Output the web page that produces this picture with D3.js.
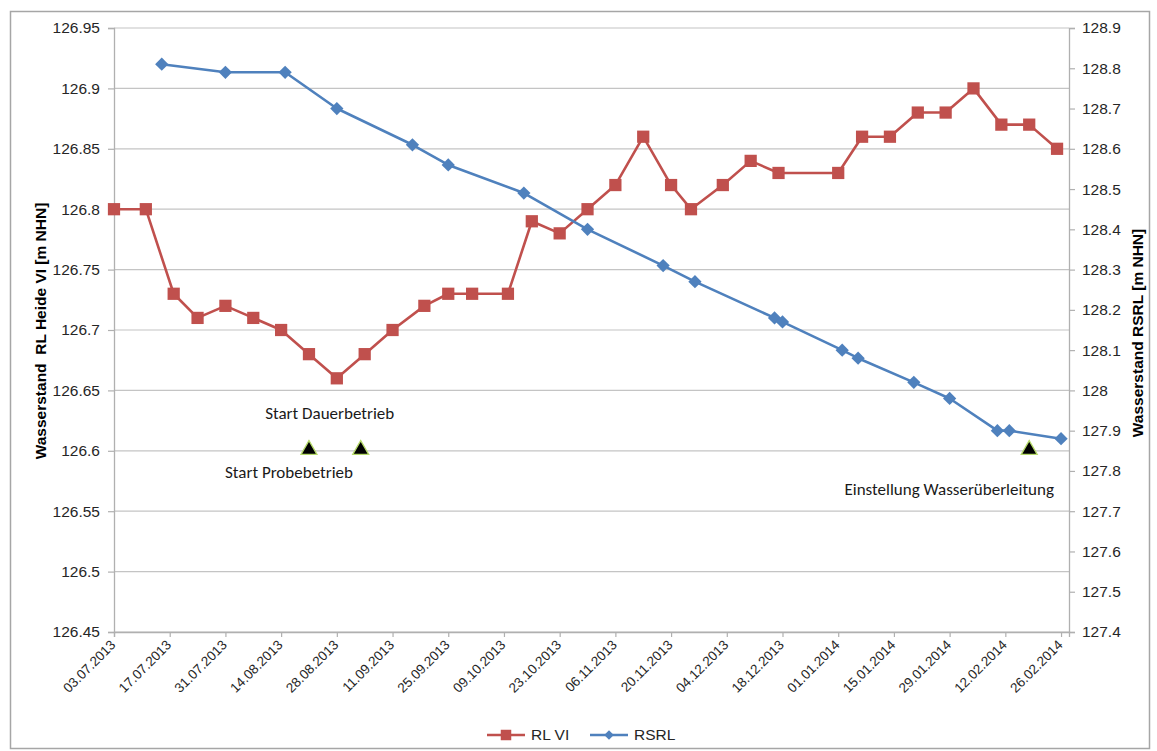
<!DOCTYPE html>
<html><head><meta charset="utf-8">
<script src="https://cdn.jsdelivr.net/npm/d3@7"></script>
<style>
html,body{margin:0;padding:0;background:#fff;}
svg{display:block;}
</style></head>
<body>
<svg id="chart" width="1157" height="751"></svg>
<script>
// ---- data ----
const rlDates = ["03.07.2013","11.07.2013","18.07.2013","24.07.2013","31.07.2013","07.08.2013","14.08.2013","21.08.2013","28.08.2013","04.09.2013","11.09.2013","19.09.2013","25.09.2013","01.10.2013","10.10.2013","16.10.2013","23.10.2013","30.10.2013","06.11.2013","13.11.2013","20.11.2013","25.11.2013","03.12.2013","10.12.2013","17.12.2013","01.01.2014","07.01.2014","14.01.2014","21.01.2014","28.01.2014","04.02.2014","11.02.2014","18.02.2014","25.02.2014"];
const rlValues = [126.80,126.80,126.73,126.71,126.72,126.71,126.70,126.68,126.66,126.68,126.70,126.72,126.73,126.73,126.73,126.79,126.78,126.80,126.82,126.86,126.82,126.80,126.82,126.84,126.83,126.83,126.86,126.86,126.88,126.88,126.90,126.87,126.87,126.85];
const rsrlDates = ["15.07.2013","31.07.2013","15.08.2013","28.08.2013","16.09.2013","25.09.2013","14.10.2013","30.10.2013","18.11.2013","26.11.2013","16.12.2013","18.12.2013","02.01.2014","06.01.2014","20.01.2014","29.01.2014","10.02.2014","13.02.2014","26.02.2014"];
const rsrlValues = [128.81,128.79,128.79,128.70,128.61,128.56,128.49,128.40,128.31,128.27,128.18,128.17,128.10,128.08,128.02,127.98,127.90,127.90,127.88];
const xTickLabels = ["03.07.2013","17.07.2013","31.07.2013","14.08.2013","28.08.2013","11.09.2013","25.09.2013","09.10.2013","23.10.2013","06.11.2013","20.11.2013","04.12.2013","18.12.2013","01.01.2014","15.01.2014","29.01.2014","12.02.2014","26.02.2014"];
const leftTicks = [126.45,126.5,126.55,126.6,126.65,126.7,126.75,126.8,126.85,126.9,126.95];
const rightTicks = [127.4,127.5,127.6,127.7,127.8,127.9,128,128.1,128.2,128.3,128.4,128.5,128.6,128.7,128.8,128.9];
const eventDates = ["21.08.2013","03.09.2013","18.02.2014"];
const eventLevel = 126.6;
const eventLabels = ["Start Probebetrieb","Start Dauerbetrieb","Einstellung Wasserüberleitung"];
const seriesNames = ["RL VI","RSRL"];
const leftTitle = "Wasserstand  RL Heide VI [m NHN]";
const rightTitle = "Wasserstand RSRL [m NHN]";

// ---- setup ----
const parse = d3.timeParse("%d.%m.%Y");
const svg = d3.select("#chart");
const L = 114, R = 1069, T = 28, B = 632;
const red = "#c0504d", blue = "#4f81bd";
const axisFont = "Arial, 'Liberation Sans', sans-serif";
const noteFont = "Carlito, Lato, 'Open Sans', sans-serif";

const x = d3.scaleTime().domain([parse("03.07.2013"), parse("28.02.2014")]).range([L, R]);
const yL = d3.scaleLinear().domain([126.45, 126.95]).range([B, T]);
const yR = d3.scaleLinear().domain([127.4, 128.9]).range([B, T]);
const fmt = v => String(+v.toFixed(2));

// outer frame
svg.append("rect").attr("x", 10.5).attr("y", 11.5).attr("width", 1139).attr("height", 737)
  .attr("fill", "#fff").attr("stroke", "#a6a6a6").attr("stroke-width", 1.5);

// gridlines
svg.append("g").selectAll("line").data(leftTicks).join("line")
  .attr("x1", L).attr("x2", R).attr("y1", d => yL(d)).attr("y2", d => yL(d))
  .attr("stroke", "#c4c4c4").attr("stroke-width", 1.2);

// left axis
const gL = svg.append("g").attr("transform", `translate(${L},0)`)
  .call(d3.axisLeft(yL).tickValues(leftTicks).tickFormat(fmt).tickSize(6).tickPadding(8));
// right axis
const gR = svg.append("g").attr("transform", `translate(${R},0)`)
  .call(d3.axisRight(yR).tickValues(rightTicks).tickFormat(fmt).tickSize(6).tickPadding(7));
// bottom axis
const gB = svg.append("g").attr("transform", `translate(0,${B})`)
  .call(d3.axisBottom(x).tickValues(xTickLabels.map(parse)).tickFormat(d3.timeFormat("%d.%m.%Y")).tickSize(5).tickPadding(4));

[gL, gR, gB].forEach(g => {
  g.select(".domain").attr("stroke", "#b0b0b0").attr("stroke-width", 1.3);
  g.selectAll(".tick line").attr("stroke", "#b0b0b0").attr("stroke-width", 1.2);
  g.selectAll("text").attr("fill", "#262626").style("font-family", axisFont);
});
gL.selectAll("text").style("font-size", "15.5px");
gR.selectAll("text").style("font-size", "15.5px");
gB.selectAll("text").style("font-size", "13.5px")
  .attr("text-anchor", "end").attr("dy", "0.35em")
  .attr("transform", "translate(0,9) rotate(-45)").attr("x", -2).attr("y", 0);

// axis titles
svg.append("text").attr("transform", "translate(46,331) rotate(-90)")
  .attr("text-anchor", "middle").style("font-family", axisFont).style("font-size", "15.5px")
  .style("font-weight", "bold").attr("fill", "#000").attr("xml:space", "preserve").text(leftTitle);
svg.append("text").attr("transform", "translate(1143,333) rotate(-90)")
  .attr("text-anchor", "middle").style("font-family", axisFont).style("font-size", "15.5px")
  .style("font-weight", "bold").attr("fill", "#000").text(rightTitle);

// series
const rl = rlDates.map((d, i) => ({d: parse(d), v: rlValues[i]}));
const rs = rsrlDates.map((d, i) => ({d: parse(d), v: rsrlValues[i]}));

svg.append("path").datum(rl).attr("fill", "none").attr("stroke", red).attr("stroke-width", 2.6)
  .attr("stroke-linejoin", "round")
  .attr("d", d3.line().x(p => x(p.d)).y(p => yL(p.v)));
svg.append("g").selectAll("path").data(rl).join("path")
  .attr("transform", p => `translate(${x(p.d)},${yL(p.v)})`)
  .attr("d", d3.symbol(d3.symbolSquare, 150)).attr("fill", red);

svg.append("path").datum(rs).attr("fill", "none").attr("stroke", blue).attr("stroke-width", 2.6)
  .attr("stroke-linejoin", "round")
  .attr("d", d3.line().x(p => x(p.d)).y(p => yR(p.v)));
svg.append("g").selectAll("path").data(rs).join("path")
  .attr("transform", p => `translate(${x(p.d)},${yR(p.v)}) rotate(45)`)
  .attr("d", d3.symbol(d3.symbolSquare, 88)).attr("fill", blue);

// event markers
const tri = d3.symbol(d3.symbolTriangle, 110);
svg.append("g").selectAll("path").data(eventDates).join("path")
  .attr("transform", d => `translate(${x(parse(d))},${yL(eventLevel) - 1})`)
  .attr("d", tri).attr("fill", "#000").attr("stroke", "#b5d96a").attr("stroke-width", 1.3);

const notePos = [
  {dx: -20, dy: 27}, {dx: -31, dy: -32}, {dx: -80, dy: 44}
];
svg.append("g").selectAll("text").data(eventLabels).join("text")
  .attr("x", (d, i) => x(parse(eventDates[i])) + notePos[i].dx)
  .attr("y", (d, i) => yL(eventLevel) + notePos[i].dy)
  .attr("text-anchor", "middle").style("font-family", noteFont).style("font-size", "17px")
  .attr("fill", "#1a1a1a").text(d => d);

// legend
const lg = svg.append("g");
const legendItems = [
  {name: seriesNames[0], color: red, x: 487, sym: d3.symbol(d3.symbolSquare, 110), rot: 0},
  {name: seriesNames[1], color: blue, x: 590, sym: d3.symbol(d3.symbolSquare, 45), rot: 45}
];
legendItems.forEach(it => {
  lg.append("line").attr("x1", it.x).attr("x2", it.x + 38).attr("y1", 735).attr("y2", 735)
    .attr("stroke", it.color).attr("stroke-width", 2.6);
  lg.append("path").attr("d", it.sym).attr("fill", it.color)
    .attr("transform", `translate(${it.x + 19},735) rotate(${it.rot})`);
  lg.append("text").attr("x", it.x + 44).attr("y", 735).attr("dy", "0.35em")
    .style("font-family", axisFont).style("font-size", "15.5px").attr("fill", "#262626").text(it.name);
});
</script>
</body></html>
